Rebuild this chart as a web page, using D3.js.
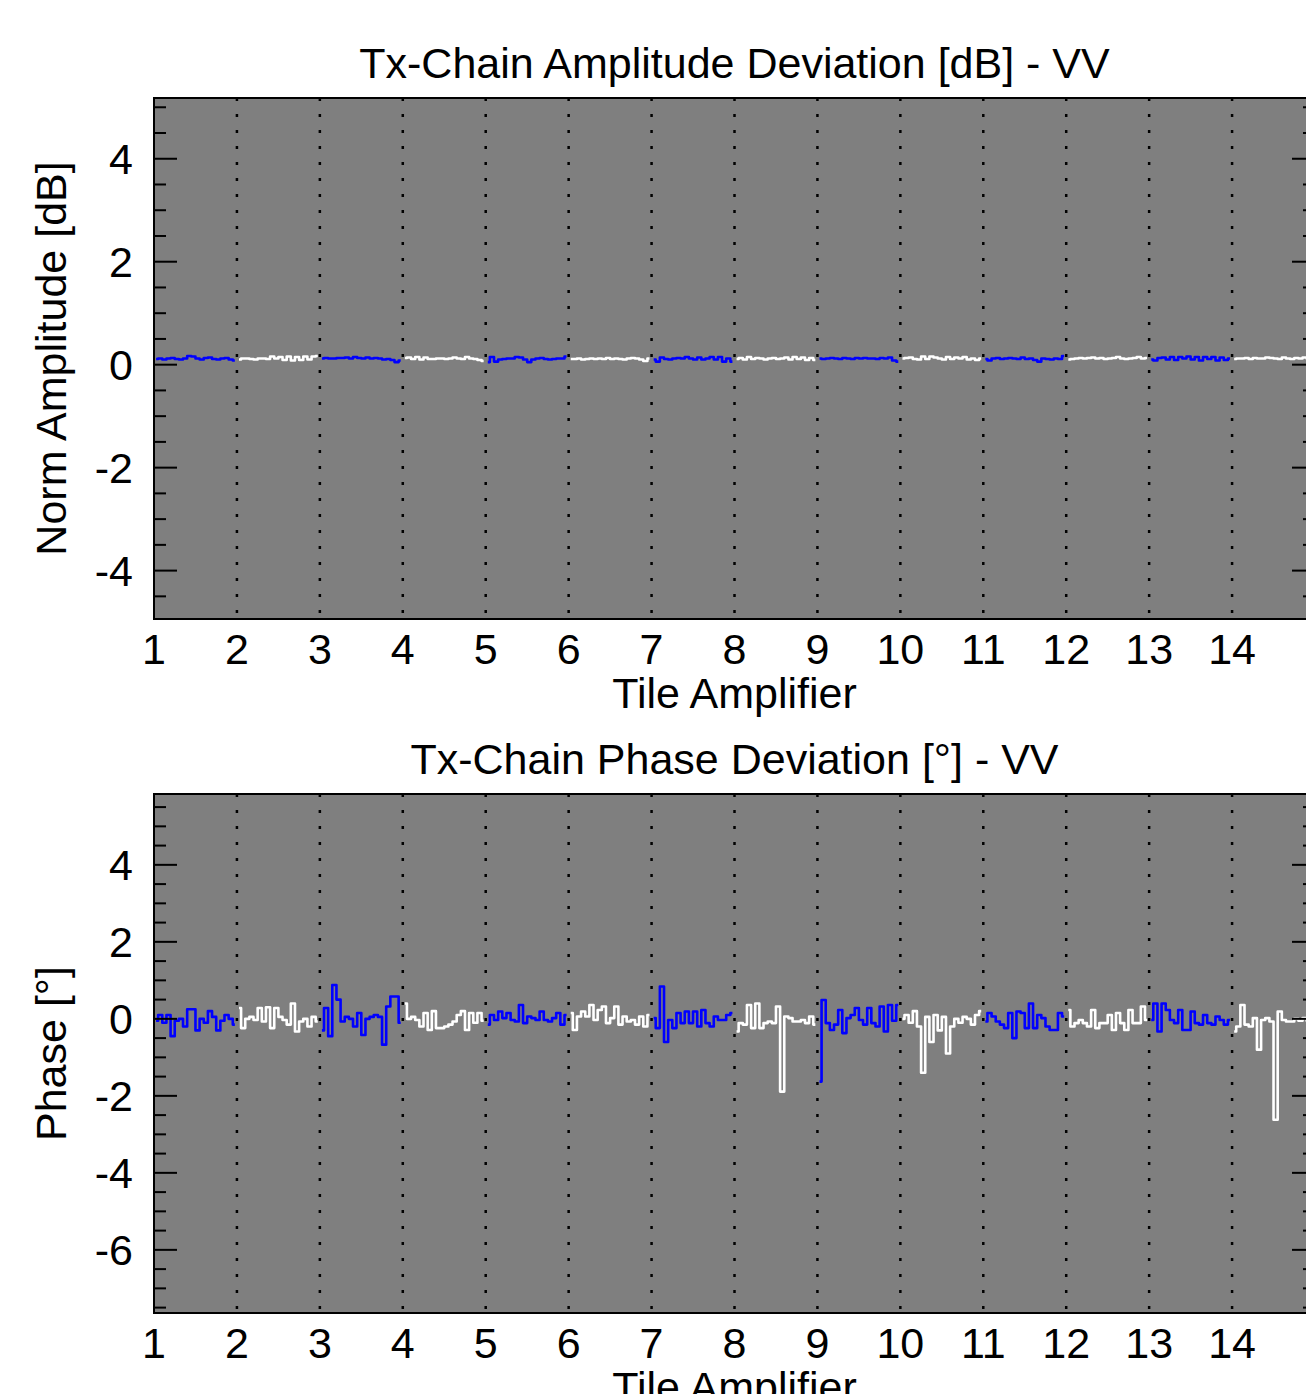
<!DOCTYPE html>
<html>
<head>
<meta charset="utf-8">
<script src="https://cdn.jsdelivr.net/npm/d3@7"></script>
<style>
  body { margin: 0; background: #fff; }
  svg text { font-family: "Liberation Sans", Arial, Helvetica, sans-serif; fill: #000; }
</style>
</head>
<body>
<div id="chart"></div>
<script>
// Data: 14 tiles, 20 TRM samples per tile
const tiles = d3.range(1, 15);
const xTickLabels = [1, 2, 3, 4, 5, 6, 7, 8, 9, 10, 11, 12, 13, 14];
const ampTickLabels = [4, 2, 0, -2, -4];
const phaseTickLabels = [4, 2, 0, -2, -4, -6];
const tileColors = ['#0000ff', '#ffffff'];

const amplitudeByTile = [
    [0.11, 0.12, 0.10, 0.12, 0.13, 0.11, 0.10, 0.12, 0.17, 0.16, 0.12, 0.10, 0.13, 0.14, 0.11, 0.10, 0.12, 0.13, 0.10, 0.08],
    [0.10, 0.12, 0.12, 0.11, 0.10, 0.12, 0.12, 0.11, 0.16, 0.12, 0.15, 0.09, 0.16, 0.08, 0.15, 0.09, 0.16, 0.10, 0.16, 0.17],
    [0.12, 0.13, 0.12, 0.12, 0.13, 0.13, 0.14, 0.12, 0.15, 0.13, 0.12, 0.14, 0.12, 0.13, 0.12, 0.10, 0.11, 0.09, 0.05, 0.08],
    [0.13, 0.14, 0.11, 0.15, 0.10, 0.14, 0.11, 0.11, 0.12, 0.12, 0.11, 0.12, 0.14, 0.12, 0.11, 0.15, 0.12, 0.11, 0.09, 0.07],
    [0.05, 0.15, 0.06, 0.10, 0.11, 0.12, 0.12, 0.15, 0.14, 0.10, 0.05, 0.10, 0.12, 0.13, 0.11, 0.10, 0.11, 0.12, 0.12, 0.16],
    [0.11, 0.11, 0.12, 0.10, 0.11, 0.12, 0.11, 0.12, 0.11, 0.13, 0.11, 0.12, 0.11, 0.10, 0.12, 0.13, 0.12, 0.10, 0.07, 0.12],
    [0.10, 0.06, 0.14, 0.11, 0.10, 0.12, 0.13, 0.12, 0.15, 0.12, 0.10, 0.14, 0.10, 0.12, 0.15, 0.10, 0.15, 0.06, 0.12, 0.06],
    [0.11, 0.13, 0.10, 0.15, 0.11, 0.13, 0.12, 0.10, 0.12, 0.13, 0.11, 0.12, 0.14, 0.10, 0.15, 0.11, 0.14, 0.09, 0.13, 0.09],
    [0.12, 0.11, 0.12, 0.13, 0.12, 0.11, 0.13, 0.12, 0.11, 0.13, 0.12, 0.13, 0.12, 0.12, 0.11, 0.13, 0.12, 0.14, 0.08, 0.06],
    [0.12, 0.13, 0.14, 0.11, 0.10, 0.16, 0.11, 0.16, 0.14, 0.12, 0.10, 0.15, 0.11, 0.14, 0.12, 0.15, 0.10, 0.12, 0.09, 0.12],
    [0.11, 0.08, 0.12, 0.13, 0.11, 0.12, 0.13, 0.12, 0.11, 0.14, 0.11, 0.12, 0.09, 0.06, 0.12, 0.11, 0.10, 0.12, 0.11, 0.17],
    [0.10, 0.11, 0.12, 0.13, 0.12, 0.13, 0.14, 0.12, 0.13, 0.11, 0.12, 0.13, 0.15, 0.12, 0.11, 0.12, 0.13, 0.15, 0.12, 0.13],
    [0.10, 0.08, 0.13, 0.14, 0.10, 0.15, 0.09, 0.15, 0.12, 0.16, 0.10, 0.15, 0.08, 0.15, 0.11, 0.15, 0.08, 0.14, 0.09, 0.12],
    [0.11, 0.12, 0.12, 0.13, 0.11, 0.13, 0.12, 0.12, 0.14, 0.13, 0.12, 0.11, 0.14, 0.12, 0.11, 0.13, 0.12, 0.14, 0.12, 0.11]
];

const phaseByTile = [
    [-0.05, 0.1, -0.1, 0.1, -0.45, -0.05, 0.0, -0.2, 0.25, 0.25, -0.3, 0.0, -0.1, 0.2, 0.05, -0.3, -0.05, 0.1, 0.0, -0.15],
    [0.28, -0.24, 0.0, 0.05, -0.03, 0.28, -0.07, 0.3, -0.24, 0.28, 0.05, -0.03, -0.15, 0.4, -0.33, -0.07, 0.0, -0.2, 0.05, -0.07],
    [-0.3, 0.28, -0.45, 0.88, 0.5, -0.07, 0.05, 0.0, -0.2, 0.15, -0.42, 0.0, 0.05, 0.1, 0.05, -0.67, 0.32, 0.58, 0.58, -0.1],
    [0.4, 0.0, 0.05, -0.03, -0.2, 0.15, -0.29, 0.2, -0.24, -0.24, -0.2, -0.15, -0.07, 0.1, 0.2, -0.29, 0.15, -0.1, 0.15, -0.05],
    [-0.15, 0.1, -0.03, 0.19, 0.02, 0.15, -0.03, -0.07, 0.36, -0.11, 0.06, 0.02, -0.03, 0.19, -0.03, -0.07, 0.02, 0.15, -0.15, 0.1],
    [0.15, -0.29, 0.06, 0.19, 0.06, 0.36, -0.03, 0.23, 0.32, -0.11, 0.02, 0.32, -0.15, 0.06, -0.07, -0.03, -0.15, 0.06, -0.2, 0.1],
    [0.02, -0.24, 0.84, -0.6, -0.03, -0.24, 0.15, -0.11, 0.19, -0.11, 0.19, -0.2, 0.23, -0.11, -0.2, 0.06, -0.03, -0.03, 0.1, 0.15],
    [-0.33, -0.11, -0.15, 0.36, -0.24, 0.4, -0.24, -0.11, -0.07, -0.11, 0.32, -1.89, 0.06, 0.02, -0.07, -0.07, -0.03, -0.11, 0.06, -0.15],
    [-1.63, 0.49, -0.11, -0.29, -0.15, 0.23, -0.37, 0.02, 0.1, 0.28, -0.03, -0.15, 0.28, -0.11, -0.2, 0.32, -0.33, 0.36, -0.05, 0.36],
    [0.0, 0.1, -0.1, 0.2, -0.2, -1.4, 0.05, -0.6, 0.1, -0.3, 0.05, -0.9, -0.2, 0.0, -0.1, 0.05, 0.0, -0.15, 0.1, 0.2],
    [-0.07, 0.15, 0.06, -0.07, -0.15, -0.24, 0.15, -0.5, 0.19, 0.15, -0.24, 0.4, -0.24, 0.1, 0.02, -0.2, -0.29, -0.29, 0.15, 0.06],
    [0.23, -0.2, -0.11, -0.03, -0.11, -0.2, 0.23, -0.24, -0.11, -0.11, 0.1, -0.29, 0.15, -0.11, -0.29, 0.23, -0.11, -0.11, 0.32, -0.03],
    [-0.03, 0.4, -0.33, 0.4, 0.23, -0.03, -0.11, 0.23, -0.29, -0.29, 0.19, -0.11, -0.15, 0.1, -0.11, -0.15, 0.06, -0.03, -0.15, -0.03],
    [-0.33, -0.2, 0.36, -0.15, -0.2, 0.02, -0.8, -0.03, 0.02, -0.07, -2.62, 0.19, -0.03, -0.07, -0.07, 0.0, -0.05, 0.02, -0.05, 0.0]
];

// Layout
const config = {
    width: 1306,
    height: 1394,
    left: 154,
    right: 1315,
    fontSize: 43,
    majorTick: 23,
    minorTick: 12,
    plotBg: '#7f7f7f'
};

const panels = [
    {
        title: 'Tx-Chain Amplitude Deviation [dB] - VV',
        yLabel: 'Norm Amplitude [dB]',
        top: 98, bottom: 619,
        domain: [-4.94, 5.18],
        ticks: ampTickLabels,
        data: amplitudeByTile
    },
    {
        title: 'Tx-Chain Phase Deviation [°] - VV',
        yLabel: 'Phase [°]',
        top: 794, bottom: 1313,
        domain: [-7.64, 5.84],
        ticks: phaseTickLabels,
        data: phaseByTile
    }
];

const svg = d3.select('#chart')
    .append('svg')
    .attr('width', config.width)
    .attr('height', config.height);

const xScale = d3.scaleLinear()
    .domain([1, 15])
    .range([config.left, config.right]);

panels.forEach(p => drawPanel(p));

function drawPanel(p) {
    const yScale = d3.scaleLinear()
        .domain(p.domain)
        .range([p.bottom, p.top]);

    const g = svg.append('g');

    // Plot background
    g.append('rect')
        .attr('x', config.left)
        .attr('y', p.top)
        .attr('width', config.right - config.left)
        .attr('height', p.bottom - p.top)
        .attr('fill', config.plotBg);

    // Dotted tile separators
    g.selectAll(null)
        .data(d3.range(2, 15))
        .enter()
        .append('line')
        .attr('x1', d => xScale(d))
        .attr('x2', d => xScale(d))
        .attr('y1', p.top)
        .attr('y2', p.bottom)
        .attr('stroke', '#000')
        .attr('stroke-width', 2.5)
        .attr('stroke-dasharray', '3,13');

    // Step lines, one per tile
    const line = d3.line()
        .x(d => xScale(d.x))
        .y(d => yScale(d.y))
        .curve(d3.curveStep);

    p.data.forEach((vals, t) => {
        const tile = tiles[t];
        const pts = vals.map((v, i) => ({ x: tile + (i + 0.5) / vals.length, y: v }));
        g.append('path')
            .datum(pts)
            .attr('fill', 'none')
            .attr('stroke', tileColors[t % 2])
            .attr('stroke-width', 2.6)
            .attr('stroke-linejoin', 'round')
            .attr('d', line);
    });

    // Y ticks on both sides (major every 2, minor every 0.5)
    const minor = d3.range(Math.ceil(p.domain[0] * 2) / 2, p.domain[1], 0.5);
    minor.forEach(v => {
        const isMajor = Math.abs(v % 2) < 1e-9;
        const len = isMajor ? config.majorTick : config.minorTick;
        const y = yScale(v);
        g.append('line')
            .attr('x1', config.left).attr('x2', config.left + len)
            .attr('y1', y).attr('y2', y)
            .attr('stroke', '#000').attr('stroke-width', 2);
        g.append('line')
            .attr('x1', config.right).attr('x2', config.right - len)
            .attr('y1', y).attr('y2', y)
            .attr('stroke', '#000').attr('stroke-width', 2);
    });

    // Frame
    g.append('rect')
        .attr('x', config.left)
        .attr('y', p.top)
        .attr('width', config.right - config.left)
        .attr('height', p.bottom - p.top)
        .attr('fill', 'none')
        .attr('stroke', '#000')
        .attr('stroke-width', 2);

    // Y tick labels
    g.selectAll(null)
        .data(p.ticks)
        .enter()
        .append('text')
        .attr('x', 133)
        .attr('y', d => yScale(d))
        .attr('dy', '0.36em')
        .attr('text-anchor', 'end')
        .attr('font-size', config.fontSize)
        .text(d => d);

    // X tick labels
    g.selectAll(null)
        .data(xTickLabels)
        .enter()
        .append('text')
        .attr('x', d => xScale(d))
        .attr('y', p.bottom + 45)
        .attr('text-anchor', 'middle')
        .attr('font-size', config.fontSize)
        .text(d => d);

    // X axis title
    g.append('text')
        .attr('x', (config.left + config.right) / 2)
        .attr('y', p.bottom + 89)
        .attr('text-anchor', 'middle')
        .attr('font-size', config.fontSize)
        .text('Tile Amplifier');

    // Panel title
    g.append('text')
        .attr('x', (config.left + config.right) / 2)
        .attr('y', p.top - 20)
        .attr('text-anchor', 'middle')
        .attr('font-size', config.fontSize)
        .text(p.title);

    // Y axis title
    g.append('text')
        .attr('transform', `translate(66,${(p.top + p.bottom) / 2}) rotate(-90)`)
        .attr('text-anchor', 'middle')
        .attr('font-size', config.fontSize)
        .text(p.yLabel);
}
</script>
</body>
</html>
